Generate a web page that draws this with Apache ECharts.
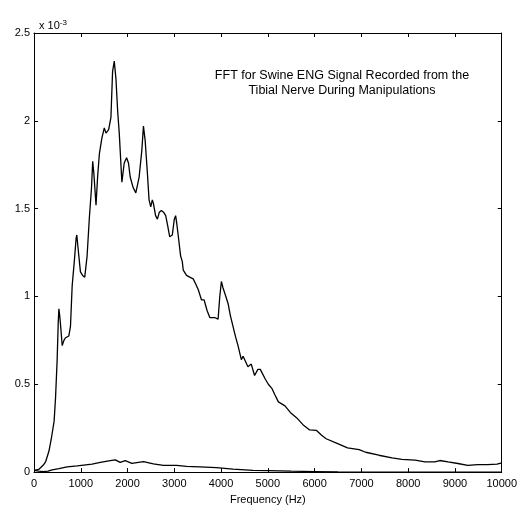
<!DOCTYPE html>
<html>
<head>
<meta charset="utf-8">
<script src="https://cdn.jsdelivr.net/npm/echarts@6/dist/echarts.min.js"></script>
<style>
  html, body { margin: 0; padding: 0; background: #fff; }
  #chart { width: 520px; height: 510px; }
</style>
</head>
<body>
<div id="chart"></div>
<script>
// frequency (Hz) and FFT magnitude (x 10^-3) of the ENG signal
const engFreq = [0, 100, 200, 250, 320, 370, 430, 460, 495, 518, 532, 550, 567, 603, 640, 674, 745, 780, 816, 865,
  900, 915, 940, 993, 1040, 1085, 1135, 1184, 1230, 1255, 1280, 1326, 1360, 1397, 1450, 1503, 1539, 1596, 1645, 1680,
  1716, 1752, 1790, 1823, 1879, 1929, 1980, 2020, 2057, 2120, 2177, 2248, 2305, 2340, 2376, 2425, 2460, 2496, 2530, 2553,
  2600, 2638, 2680, 2723, 2770, 2816, 2860, 2901, 2957, 3000, 3028, 3050, 3078, 3135, 3170, 3191, 3262, 3330, 3404, 3460,
  3511, 3582, 3638, 3700, 3759, 3800, 3865, 3936, 3972, 4007, 4040, 4078, 4149, 4200, 4255, 4310, 4362, 4433, 4470, 4504,
  4540, 4574, 4645, 4716, 4787, 4838, 4944, 5010, 5085, 5150, 5225, 5366, 5480, 5613, 5750, 5894, 6035, 6150, 6246, 6493,
  6704, 6951, 7092, 7373, 7655, 7866, 8148, 8359, 8570, 8676, 8852, 9063, 9275, 9486, 9697, 9900, 10000];
const engAmp = [0.01, 0.015, 0.04, 0.06, 0.12, 0.19, 0.29, 0.42, 0.64, 0.85, 0.93, 0.89, 0.84, 0.72, 0.75, 0.765, 0.775, 0.83, 1.06, 1.21,
  1.33, 1.35, 1.28, 1.14, 1.12, 1.11, 1.23, 1.45, 1.62, 1.77, 1.70, 1.52, 1.68, 1.81, 1.90, 1.96, 1.93, 1.95, 2.02, 2.28,
  2.34, 2.24, 2.05, 1.93, 1.65, 1.76, 1.79, 1.76, 1.68, 1.62, 1.59, 1.68, 1.83, 1.97, 1.89, 1.70, 1.55, 1.51, 1.55, 1.53,
  1.46, 1.44, 1.48, 1.49, 1.48, 1.46, 1.40, 1.34, 1.35, 1.44, 1.46, 1.42, 1.36, 1.23, 1.20, 1.15, 1.12, 1.11, 1.10, 1.07,
  1.04, 0.98, 0.98, 0.92, 0.88, 0.89, 0.88, 0.87, 1.00, 1.085, 1.05, 1.02, 0.96, 0.89, 0.83, 0.77, 0.72, 0.64, 0.66, 0.65,
  0.62, 0.60, 0.615, 0.55, 0.585, 0.585, 0.53, 0.50, 0.477, 0.44, 0.40, 0.377, 0.34, 0.31, 0.27, 0.24, 0.238, 0.21, 0.19, 0.162,
  0.138, 0.128, 0.113, 0.096, 0.081, 0.072, 0.068, 0.058, 0.058, 0.066, 0.058, 0.049, 0.038, 0.043, 0.042, 0.045, 0.053];

// lower trace
const lowFreq = [0, 100, 200, 300, 390, 532, 709, 922, 1064, 1241, 1418, 1631, 1738, 1844, 1950, 2092, 2340, 2553, 2766, 3050,
  3262, 3546, 3901, 4255, 4681, 5000, 5500, 6000, 6500, 7000, 10000];
const lowAmp = [0.01, 0.005, 0.003, 0.005, 0.013, 0.02, 0.03, 0.035, 0.04, 0.045, 0.055, 0.065, 0.07, 0.055, 0.065, 0.05, 0.06, 0.047, 0.038, 0.038,
  0.033, 0.03, 0.025, 0.017, 0.01, 0.008, 0.005, 0.003, 0.001, 0, 0];

const xTicks = [0, 1000, 2000, 3000, 4000, 5000, 6000, 7000, 8000, 9000, 10000];
const yTicks = [0, 0.5, 1, 1.5, 2, 2.5];

const titleLines = ['FFT for Swine ENG Signal Recorded from the', 'Tibial Nerve During Manipulations'];

const FONT = '"Liberation Sans", Arial, sans-serif';

function pairs(xs, ys) {
  return xs.map((x, i) => [x, ys[i]]);
}

const chart = echarts.init(document.getElementById('chart'), null, { renderer: 'canvas' });

const tickStyle = { show: true, inside: true, length: 4, lineStyle: { color: '#000', width: 1 } };
const lineStyle = { show: true, onZero: false, lineStyle: { color: '#000', width: 1 } };

const option = {
  backgroundColor: '#fff',
  animation: false,
  textStyle: { fontFamily: FONT, color: '#000' },
  title: {
    text: 'x 10{sup|-3}',
    left: 34,
    top: 14,
    textStyle: {
      fontFamily: FONT, fontSize: 11, fontWeight: 'normal', color: '#000',
      rich: { sup: { fontFamily: FONT, fontSize: 8, color: '#000', verticalAlign: 'top', padding: [0, 0, 6, 0] } }
    }
  },
  graphic: [{
    type: 'text',
    x: 342,
    y: 68,
    style: {
      text: titleLines.join('\n'),
      font: '12.5px ' + FONT,
      fill: '#000',
      align: 'center',
      verticalAlign: 'top',
      lineHeight: 15
    }
  }],
  grid: { left: 34, right: 14, top: 33, bottom: 34 },
  xAxis: [{
    type: 'value', min: 0, max: 10000, interval: 1000, position: 'bottom',
    name: 'Frequency (Hz)', nameLocation: 'middle', nameGap: 21,
    nameTextStyle: { fontFamily: FONT, fontSize: 11, color: '#000' },
    axisLine: lineStyle, axisTick: tickStyle,
    axisLabel: { fontFamily: FONT, fontSize: 11, color: '#000', margin: 6, formatter: v => String(v) },
    splitLine: { show: false }
  }, {
    type: 'value', min: 0, max: 10000, interval: 1000, position: 'top',
    axisLine: lineStyle, axisTick: tickStyle, axisLabel: { show: false }, splitLine: { show: false }
  }],
  yAxis: [{
    type: 'value', min: 0, max: 2.5, interval: 0.5, position: 'left',
    axisLine: lineStyle, axisTick: tickStyle,
    axisLabel: { fontFamily: FONT, fontSize: 11, color: '#000', margin: 4, formatter: v => String(v) },
    splitLine: { show: false }
  }, {
    type: 'value', min: 0, max: 2.5, interval: 0.5, position: 'right',
    axisLine: lineStyle, axisTick: tickStyle, axisLabel: { show: false }, splitLine: { show: false }
  }],
  series: [{
    type: 'line', name: 'ENG', data: pairs(engFreq, engAmp),
    showSymbol: false, symbol: 'none',
    lineStyle: { color: '#000', width: 1.3 }
  }, {
    type: 'line', name: 'low', data: pairs(lowFreq, lowAmp),
    showSymbol: false, symbol: 'none',
    lineStyle: { color: '#000', width: 1.3 }
  }]
};

chart.setOption(option);
</script>
</body>
</html>
